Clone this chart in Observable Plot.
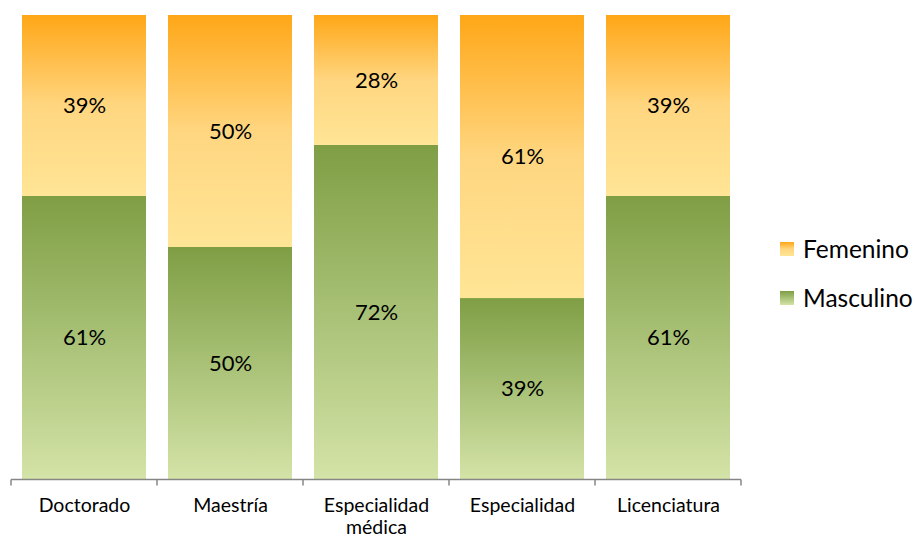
<!DOCTYPE html>
<html>
<head>
<meta charset="utf-8">
<script src="https://cdn.jsdelivr.net/npm/d3@7"></script>
<script src="https://cdn.jsdelivr.net/npm/@observablehq/plot@0.6"></script>
<style>
  html, body { margin: 0; padding: 0; background: #fff; }
  #wrap { position: relative; width: 915px; height: 540px; font-family: Lato, "Open Sans", sans-serif; }
  #legend { position: absolute; left: 780px; top: 234px; }
  .item { display: flex; align-items: center; height: 29px; margin-bottom: 20px; font-size: 24.5px; color: #000; }
  .sw { width: 14px; height: 14px; margin-right: 9px; }
</style>
</head>
<body>
<div id="wrap"><div id="chart"></div><div id="legend"></div></div>
<script>
const categories = ["Doctorado", "Maestría", "Especialidad médica", "Especialidad", "Licenciatura"];
const masculino = [61, 50, 72, 39, 61];
const femenino = [39, 50, 28, 61, 39];
const series = ["Femenino", "Masculino"];

const gradF = [["0%", "#ffa717"], ["50%", "#ffd680"], ["100%", "#ffe596"]];
const gradM = [["0%", "#7f9e44"], ["50%", "#a8c176"], ["100%", "#d4e3a7"]];

const mascData = categories.map((c, i) => ({cat: c, y1: 0, y2: masculino[i], label: masculino[i] + "%"}));
const femData = categories.map((c, i) => ({cat: c, y1: masculino[i], y2: masculino[i] + femenino[i], label: femenino[i] + "%"}));

function defs() {
  const d = d3.create("svg:defs");
  for (const [id, stops] of [["gF", gradF], ["gM", gradM]]) {
    const g = d.append("linearGradient").attr("id", id).attr("x1", 0).attr("y1", 0).attr("x2", 0).attr("y2", 1);
    for (const [o, c] of stops) g.append("stop").attr("offset", o).attr("stop-color", c);
  }
  return d.node();
}

function boundaryAxis(index, scales, values, dims) {
  const x = scales.x, y = scales.y;
  const bw = x.bandwidth();
  const step = x(categories[1]) - x(categories[0]);
  const half = (step - bw) / 2;
  const y0 = y(0) + 0.5;
  const xs = categories.map(c => x(c) - half);
  xs.push(x(categories[categories.length - 1]) + bw + half);
  const g = d3.create("svg:g").attr("stroke", "#868686").attr("stroke-width", 1.5).attr("fill", "none");
  g.append("line").attr("x1", xs[0]).attr("x2", xs[xs.length - 1]).attr("y1", y0).attr("y2", y0);
  for (const v of xs) g.append("line").attr("x1", v).attr("x2", v).attr("y1", y0).attr("y2", y0 + 6);
  return g.node();
}

const chart = Plot.plot({
  width: 760,
  height: 540,
  marginTop: 15,
  marginBottom: 61,
  marginLeft: 0,
  marginRight: 0,
  style: {fontFamily: "Lato, 'Open Sans', sans-serif", color: "#000", background: "#fff"},
  x: {domain: categories, range: [11, 741], paddingInner: 0.15, paddingOuter: 0.075, label: null},
  y: {domain: [0, 100], axis: null},
  marks: [
    defs,
    Plot.barY(mascData, {x: "cat", y1: "y1", y2: "y2", fill: "url(#gM)"}),
    Plot.barY(femData, {x: "cat", y1: "y1", y2: "y2", fill: "url(#gF)"}),
    Plot.text(mascData, {x: "cat", y: d => (d.y1 + d.y2) / 2, text: "label", fontSize: 22, fill: "#000"}),
    Plot.text(femData, {x: "cat", y: d => (d.y1 + d.y2) / 2, text: "label", fontSize: 22, fill: "#000"}),
    boundaryAxis,
    Plot.axisX({tickSize: 0, tickPadding: 17, fontSize: 19.5, lineHeight: 1.12, label: null,
      tickFormat: d => d === "Especialidad médica" ? "Especialidad\nmédica" : d})
  ]
});
document.getElementById("chart").appendChild(chart);

const legend = d3.select("#legend");
for (const s of series) {
  const stops = s === "Femenino" ? gradF : gradM;
  const it = legend.append("div").attr("class", "item");
  it.append("div").attr("class", "sw")
    .style("background", `linear-gradient(to bottom, ${stops.map(([o, c]) => c + " " + o).join(", ")})`);
  it.append("span").text(s);
}
</script>
</body>
</html>
